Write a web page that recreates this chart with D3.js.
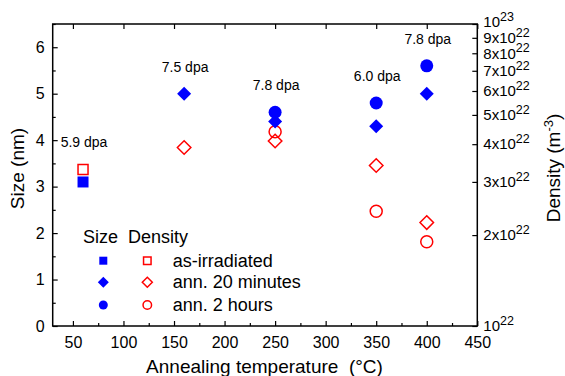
<!DOCTYPE html>
<html>
<head>
<meta charset="utf-8">
<script src="https://cdn.jsdelivr.net/npm/d3@7"></script>
<style>
  body { margin: 0; background: #fff; }
  svg text { font-family: Arial, "Liberation Sans", sans-serif; fill: #000; }
</style>
</head>
<body>
<div id="chart-area"></div>
<script>
// datos
var legendLabels = ["as-irradiated", "ann. 20 minutes", "ann. 2 hours"];

var asIrrTemp = [60];
var asIrrSize = [3.1];
var asIrrDensity = [3.3e22];

var ann20Temp = [160, 250, 350, 400];
var ann20Size = [5.0, 4.4, 4.3, 5.0];
var ann20Density = [3.9e22, 4.1e22, 3.4e22, 2.2e22];

var ann2hTemp = [250, 350, 400];
var ann2hSize = [4.6, 4.8, 5.6];
var ann2hDensity = [4.4e22, 2.4e22, 1.9e22];

var dpaTemp = [60, 160, 250, 350, 400];
var dpaLabels = ["5.9 dpa", "7.5 dpa", "7.8 dpa", "6.0 dpa", "7.8 dpa"];

var xTicks = [50, 100, 150, 200, 250, 300, 350, 400, 450];
var xMinorTicks = [75, 125, 175, 225, 275, 325, 375, 425];
var yTicks = [0, 1, 2, 3, 4, 5, 6];
var yMinorTicks = [0.5, 1.5, 2.5, 3.5, 4.5, 5.5, 6.5];
var densityMant = [1, 2, 3, 4, 5, 6, 7, 8, 9, 10];

var margin = { left: 52.7, right: 87.7, top: 24, bottom: 50 };
var W = 565, H = 376;
var width = W - margin.left - margin.right;
var height = H - margin.top - margin.bottom;

var BLUE = "#0000ff", RED = "#ff0000";

var svg = d3.select("#chart-area").append("svg")
    .attr("width", W)
    .attr("height", H);

var g = svg.append("g")
    .attr("transform", "translate(" + margin.left + "," + margin.top + ")");

var x = d3.scaleLinear().domain([30, 450]).range([0, width]);
var y = d3.scaleLinear().domain([0, 6.5]).range([height, 0]);
var yD = d3.scaleLog().domain([1e22, 1e23]).range([height, 0]);

// ejes
g.append("g").attr("transform", "translate(0," + height + ")")
    .call(d3.axisBottom(x).tickValues(xTicks).tickSize(-5).tickPadding(11).tickFormat(d3.format("d")));
g.append("g").attr("transform", "translate(0," + height + ")")
    .call(d3.axisBottom(x).tickValues(xMinorTicks).tickSize(-3).tickFormat(""));
g.append("g")
    .call(d3.axisTop(x).tickValues(xTicks).tickSize(-5).tickFormat(""));

g.append("g")
    .call(d3.axisLeft(y).tickValues(yTicks).tickSize(-5).tickPadding(8).tickFormat(d3.format("d")));
g.append("g")
    .call(d3.axisLeft(y).tickValues(yMinorTicks).tickSize(-3).tickFormat(""));

var yDAxis = g.append("g").attr("transform", "translate(" + width + ",0)")
    .call(d3.axisRight(yD).tickValues(densityMant.map(function(m) { return m * 1e22; }))
        .tickSize(-5).tickPadding(6).tickFormat(""));

yDAxis.selectAll(".tick text").each(function(d, i) {
    var m = densityMant[i];
    var t = d3.select(this).attr("font-size", 15);
    if (m === 10) t.attr("y", -2); // un poco mas arriba para no pisar 9x10^22
    var base = (m === 1 || m === 10) ? "10" : m + "x10";
    var exp = m === 10 ? "23" : "22";
    t.append("tspan").text(base);
    t.append("tspan").attr("dy", "-6.5").attr("font-size", 12.5).text(exp);
});

g.selectAll(".domain").remove();
g.selectAll(".tick line").attr("stroke", "#000").attr("stroke-width", 1.2);
g.selectAll(".tick text").attr("font-size", function() {
    return d3.select(this).attr("font-size") || 16;
}).style("font-family", "Arial, 'Liberation Sans', sans-serif");

g.append("rect")
    .attr("width", width).attr("height", height)
    .attr("fill", "none").attr("stroke", "#000").attr("stroke-width", 1.5);

// titulos
g.append("text")
    .attr("x", width / 2 - 0.5).attr("y", height + 47)
    .attr("font-size", 19).attr("text-anchor", "middle")
    .style("white-space", "pre")
    .text("Annealing temperature  (°C)");

g.append("text")
    .attr("transform", "translate(" + (-margin.left + 17.5) + "," + 144.5 + ") rotate(-90)")
    .attr("font-size", 19).attr("text-anchor", "middle").attr("dy", "0.35em")
    .text("Size (nm)");

var dLabel = g.append("text")
    .attr("transform", "translate(" + (width + 76) + "," + 144 + ") rotate(-90)")
    .attr("font-size", 19).attr("text-anchor", "middle").attr("dy", "0.35em");
dLabel.append("tspan").text("Density (m");
dLabel.append("tspan").attr("dy", "-7").attr("font-size", 13).text("-3");
dLabel.append("tspan").attr("dy", "7").text(")");

// simbolos
function marker(shape, s) {
    var h = s / 2;
    if (shape === "square") return "M" + (-h) + "," + (-h) + "h" + s + "v" + s + "h" + (-s) + "Z";
    if (shape === "diamond") return "M0," + (-h) + "L" + h + ",0L0," + h + "L" + (-h) + ",0Z";
    return "M" + h + ",0A" + h + "," + h + " 0 1,1 " + (-h) + ",0A" + h + "," + h + " 0 1,1 " + h + ",0Z";
}

function zip(ts, vs) { return ts.map(function(t, i) { return { t: t, v: vs[i] }; }); }

var series = [
    { data: zip(asIrrTemp, asIrrDensity), shape: "square", s: 10, fill: false, sc: yD },
    { data: zip(ann20Temp, ann20Density), shape: "diamond", s: 13.5, fill: false, sc: yD },
    { data: zip(ann2hTemp, ann2hDensity), shape: "circle", s: 12, fill: false, sc: yD },
    { data: zip(asIrrTemp, asIrrSize), shape: "square", s: 11, fill: true, sc: y },
    { data: zip(ann20Temp, ann20Size), shape: "diamond", s: 14, fill: true, sc: y },
    { data: zip(ann2hTemp, ann2hSize), shape: "circle", s: 13, fill: true, sc: y }
];

series.forEach(function(sr) {
    g.selectAll(null).data(sr.data).enter().append("path")
        .attr("d", marker(sr.shape, sr.s))
        .attr("transform", function(d) { return "translate(" + x(d.t) + "," + sr.sc(d.v) + ")"; })
        .attr("fill", sr.fill ? BLUE : "none")
        .attr("stroke", sr.fill ? "none" : RED)
        .attr("stroke-width", 1.5);
});

// etiquetas dpa sobre el marcador mas alto de cada temperatura
dpaTemp.forEach(function(t, i) {
    var top = d3.min(series, function(sr) {
        return d3.min(sr.data.filter(function(d) { return d.t === t; }), function(d) { return sr.sc(d.v); });
    });
    g.append("text")
        .attr("x", x(t) + 1).attr("y", top - 22)
        .attr("font-size", 14).attr("text-anchor", "middle")
        .text(dpaLabels[i]);
});

// leyenda
var leg = g.append("g").attr("transform", "translate(" + (83 - margin.left) + "," + (243 - margin.top) + ")");
leg.append("text").attr("x", 0).attr("y", 0).attr("font-size", 18).text("Size");
leg.append("text").attr("x", 45).attr("y", 0).attr("font-size", 18).text("Density");
var legShapes = [["square", 8, 7.5], ["diamond", 11, 10], ["circle", 9, 8.5]];
var rowY = [17.7, 39.3, 62];
legendLabels.forEach(function(lbl, i) {
    leg.append("path").attr("d", marker(legShapes[i][0], legShapes[i][1]))
        .attr("transform", "translate(20.3," + rowY[i] + ")").attr("fill", BLUE);
    leg.append("path").attr("d", marker(legShapes[i][0], legShapes[i][2]))
        .attr("transform", "translate(64.3," + rowY[i] + ")")
        .attr("fill", "none").attr("stroke", RED).attr("stroke-width", 1.5);
    leg.append("text").attr("x", 89.7).attr("y", rowY[i] + 5.8)
        .attr("font-size", 18).text(lbl);
});
</script>
</body>
</html>
